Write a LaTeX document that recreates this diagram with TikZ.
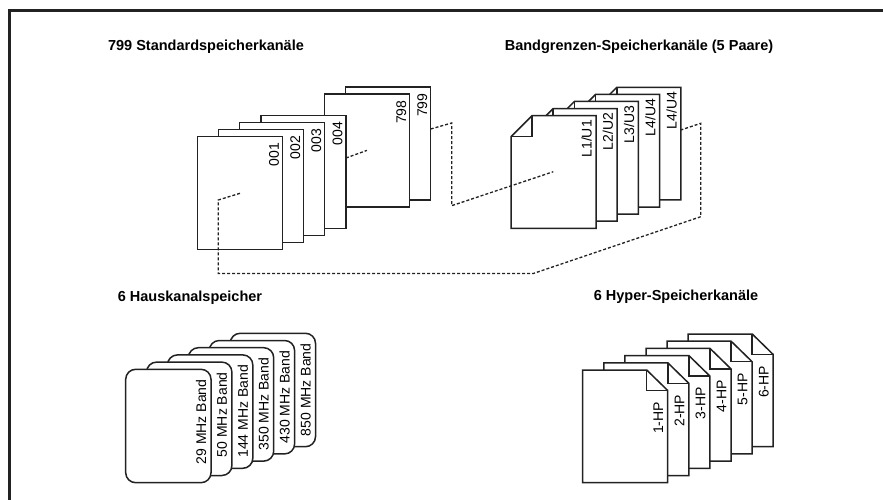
\documentclass[tikz,border=0pt]{standalone}
\usepackage{fontspec}
\setmainfont{Liberation Sans}
\usetikzlibrary{calc}
\definecolor{ink}{HTML}{222222}
\begin{document}
\begin{tikzpicture}[x=1pt,y=-1pt,
  sheet/.style={draw=ink, line width=1.5pt, fill=white, inner sep=0pt, outer sep=0pt,
                minimum width=85pt, minimum height=113pt},
  frameless/.style={inner sep=0pt, outer sep=0pt, minimum width=85pt, minimum height=112.6pt},
  outline/.style={draw=ink, line width=1.5pt, fill=white, line join=miter},
  fold/.style={draw=ink, line width=1.5pt},
  roundsheet/.style={sheet, rounded corners=10pt, minimum width=85.3pt, minimum height=113.4pt},
  plabel/.style={rotate=90, anchor=east, inner sep=0pt, font=\fontsize{14}{16}\selectfont},
  title/.style={inner sep=0pt, font=\bfseries\fontsize{14.5}{17}\selectfont},
  link/.style={draw=ink, line width=1.3pt, dash pattern=on 3pt off 2pt},
  border/.style={draw=ink, line width=3pt}
]
\fill[white] (0,0) rectangle (883,500);
\useasboundingbox (0,0) rectangle (883,500);

% outer frame (runs off the right and bottom edges)
\coordinate (fbl) at (9.5,500);
\coordinate (ftl) at (9.5,10.5);
\coordinate (ftr) at (883,10.5);
\draw[border] (fbl) -- (ftl) -- (ftr);

% headings
\node[title] (t1) at (206,47) {799 Standardspeicherkanäle};
\node[title] (t2) at (639,47) {Bandgrenzen-Speicherkanäle (5 Paare)};
\node[title] (t3) at (190,298) {6 Hauskanalspeicher};
\node[title] (t4) at (676,297) {6 Hyper-Speicherkanäle};

% standard memory channels: plain sheets, back to front
\foreach \i/\t in {7/799,6/798,3/004,2/003,1/002,0/001}{
  \node[sheet, anchor=north west] (s\i) at ({197.3+\i*21.2},{136.7-\i*7.1}) {};
  \node[plabel] (s\i l) at ($(s\i.north east)+(-8.3,6.3)$) {\t};
}

% band-edge channels: sheets with a folded top-left corner
\foreach \i/\t in {4/L4\slash U4,3/L4\slash U4,2/L3\slash U3,1/L2\slash U2,0/L1\slash U1}{
  \node[frameless, anchor=north west] (b\i) at ({511+\i*21.2},{115.7-\i*7.1}) {};
  \path[outline] ($(b\i.north west)+(0,21)$) -- ($(b\i.north west)+(21,0)$)
        -- (b\i.north east) -- (b\i.south east) -- (b\i.south west) -- cycle;
  \path[fold] ($(b\i.north west)+(0,21)$) -- ($(b\i.north west)+(21,21)$)
        -- ($(b\i.north west)+(21,0)$);
  \node[plabel] (b\i l) at ($(b\i.north east)+(-9.3,4.3)$) {\t};
}

% home channel memories: rounded cards
\foreach \i/\t in {5/850,4/430,3/350,2/144,1/50,0/29}{
  \node[roundsheet, anchor=north west] (h\i) at ({125.7+\i*20.9},{369.3-\i*7.2}) {};
  \node[plabel] (h\i l) at ($(h\i.north east)+(-10,10)$) {\t\ MHz Band};
}

% hyper memory channels: sheets with a dog-eared top-right corner
\foreach \i in {6,5,4,3,2,1}{
  \node[frameless, anchor=north west, minimum height=112.7pt] (y\i) at ({582.7+(\i-1)*21.1},{370-(\i-1)*7.2}) {};
  \path[outline] (y\i.north west) -- ($(y\i.north east)+(-21,0)$) -- ($(y\i.north east)+(0,20.5)$)
        -- (y\i.south east) -- (y\i.south west) -- cycle;
  \path[fold] ($(y\i.north east)+(-21,0)$) -- ($(y\i.north east)+(-21,20.5)$)
        -- ($(y\i.north east)+(0,20.5)$);
  \node[plabel] (y\i l) at ($(y\i.north east)+(-9.4,31.7)$) {\i-HP};
}

% dotted links between the stacks
\coordinate (a0) at ($(s0.north west)+(42.7,56.6)$);
\coordinate (a1) at ($(s0.north west)+(21,63.3)$);
\coordinate (a2) at ($(s0.north west)+(21,136.8)$);
\coordinate (a3) at ($(b0.south west)+(22.3,45.2)$);
\coordinate (a4) at ($(b4.north east)+(20,129.4)$);
\coordinate (a5) at ($(b4.north east)+(20,36)$);
\coordinate (a6) at ($(b4.north east)+(0,42.7)$);
\draw[link] (a0) -- (a1) -- (a2) -- (a3) -- (a4) -- (a5) -- (a6);

\coordinate (c0) at ($(s7.north east)+(0,42)$);
\coordinate (c1) at ($(s7.north east)+(21,36)$);
\coordinate (c2) at ($(s7.north east)+(21,118.7)$);
\coordinate (c3) at ($(b0.north west)+(42.3,56)$);
\draw[link] (c0) -- (c1) -- (c2) -- (c3);

\coordinate (d0) at ($(s3.north east)+(0,42.6)$);
\coordinate (d1) at ($(s3.north east)+(21,35)$);
\draw[link] (d0) -- (d1);
\end{tikzpicture}
\end{document}
